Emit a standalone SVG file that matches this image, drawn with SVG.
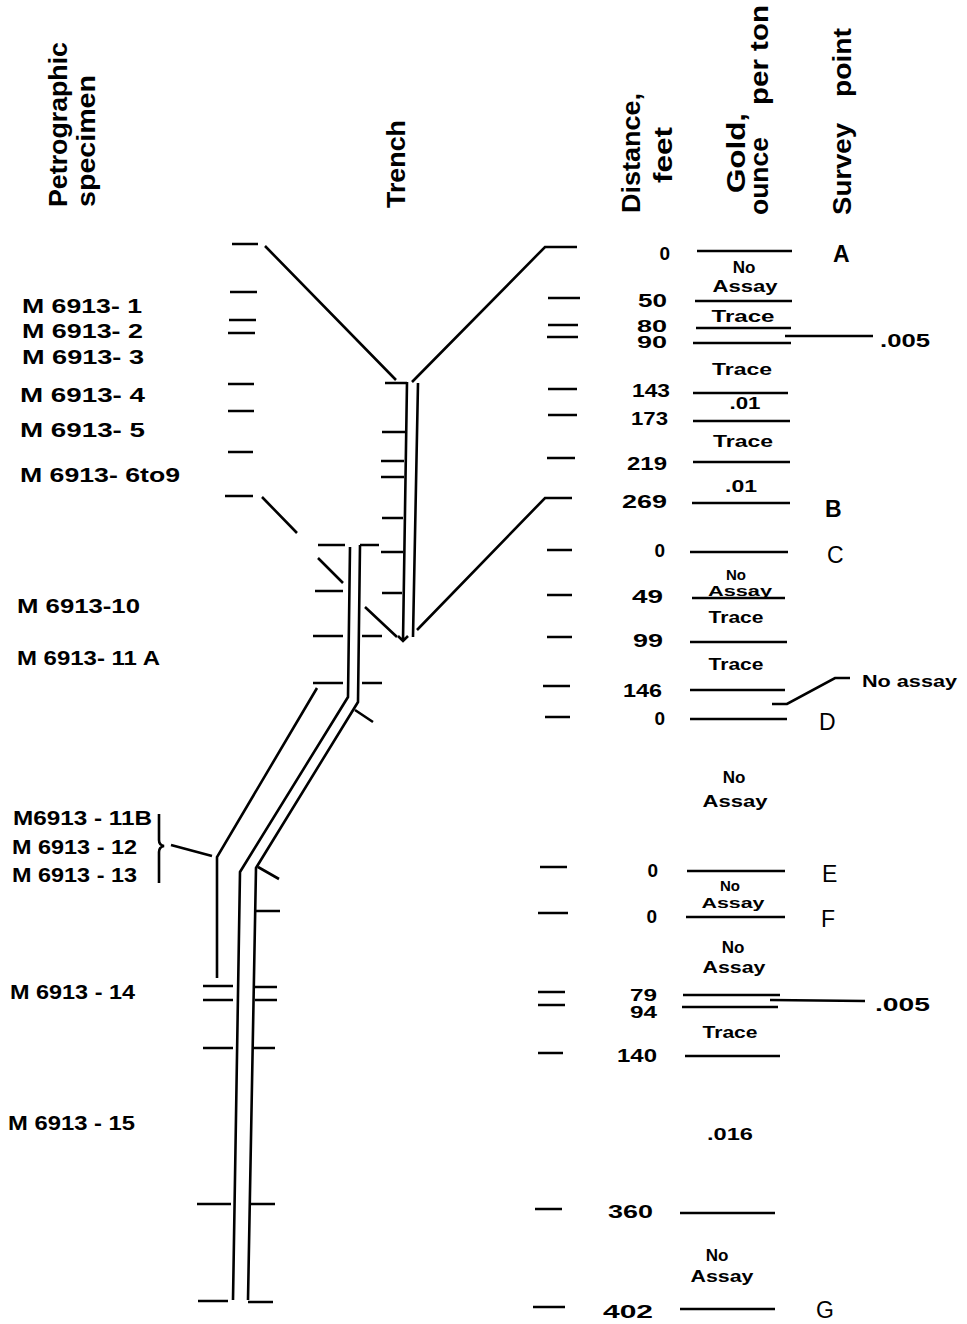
<svg xmlns="http://www.w3.org/2000/svg" width="967" height="1324" viewBox="0 0 967 1324">
<style>
.t{font-family:"Liberation Sans",Arial,sans-serif;font-weight:bold;fill:#000}
.h{font-size:26px}
.s{font-size:20px}
.n{font-size:19px}
.ns{font-size:16px}
.g{font-size:17px}
.gs{font-size:15px}
.p{font-size:23px}
.pr{font-size:23px;font-weight:normal}
.l{stroke:#000;stroke-width:2.6;fill:none;stroke-linecap:butt;stroke-linejoin:miter}
</style>
<rect width="967" height="1324" fill="#fff"/>
<g id="headers">
<text class="t h" transform="translate(67,207) rotate(-90)" textLength="165" lengthAdjust="spacingAndGlyphs">Petrographic</text>
<text class="t h" transform="translate(95,207) rotate(-90)" textLength="132" lengthAdjust="spacingAndGlyphs">specimen</text>
<text class="t h" transform="translate(405,208) rotate(-90)" textLength="88" lengthAdjust="spacingAndGlyphs">Trench</text>
<text class="t h" transform="translate(640,213) rotate(-90)" textLength="120" lengthAdjust="spacingAndGlyphs">Distance,</text>
<text class="t h" transform="translate(672,183) rotate(-90)" textLength="56" lengthAdjust="spacingAndGlyphs">feet</text>
<text class="t h" transform="translate(745,193) rotate(-90)" textLength="80" lengthAdjust="spacingAndGlyphs">Gold,</text>
<text class="t h" transform="translate(768,215) rotate(-90)"><tspan x="0" textLength="78" lengthAdjust="spacingAndGlyphs">ounce</tspan><tspan x="110" textLength="100" lengthAdjust="spacingAndGlyphs">per ton</tspan></text>
<text class="t h" transform="translate(851,215) rotate(-90)"><tspan x="0" textLength="92" lengthAdjust="spacingAndGlyphs">Survey</tspan><tspan x="118" textLength="69" lengthAdjust="spacingAndGlyphs">point</tspan></text>
</g>
<g id="specimens">
<text class="t s" x="22" y="313" textLength="120" lengthAdjust="spacingAndGlyphs">M 6913- 1</text>
<text class="t s" x="22" y="338" textLength="121" lengthAdjust="spacingAndGlyphs">M 6913- 2</text>
<text class="t s" x="22" y="364" textLength="122" lengthAdjust="spacingAndGlyphs">M 6913- 3</text>
<text class="t s" x="20" y="402" textLength="125" lengthAdjust="spacingAndGlyphs">M 6913- 4</text>
<text class="t s" x="20" y="437" textLength="125" lengthAdjust="spacingAndGlyphs">M 6913- 5</text>
<text class="t s" x="20" y="482" textLength="160" lengthAdjust="spacingAndGlyphs">M 6913- 6to9</text>
<text class="t s" x="17" y="613" textLength="123" lengthAdjust="spacingAndGlyphs">M 6913-10</text>
<text class="t s" x="17" y="665" textLength="143" lengthAdjust="spacingAndGlyphs">M 6913- 11 A</text>
<text class="t s" x="13" y="825" textLength="139" lengthAdjust="spacingAndGlyphs">M6913 - 11B</text>
<text class="t s" x="12" y="854" textLength="125" lengthAdjust="spacingAndGlyphs">M 6913 - 12</text>
<text class="t s" x="12" y="882" textLength="125" lengthAdjust="spacingAndGlyphs">M 6913 - 13</text>
<text class="t s" x="10" y="999" textLength="125" lengthAdjust="spacingAndGlyphs">M 6913 - 14</text>
<text class="t s" x="8" y="1130" textLength="127" lengthAdjust="spacingAndGlyphs">M 6913 - 15</text>
<path class="l" d="M232 244H258M230 292H257M229 320H256M228 333H255M228 384H254M228 411H254M228 452H253M225 496H253"/>
<path class="l" d="M159 814V840Q159 845 164 846Q159 847 159 852V883"/>
</g>
<g id="trench">
<path class="l" d="M407 382L403 641M398 636L403 641L408 636M418 383L413 637"/>
<path class="l" d="M385 383H407M382 432H405M381 461H404M381 477H404M382 518H403M381 552H403M382 593H402"/>
<path class="l" d="M350 547L348 697L240 872L233 1300M360 545L358 702L256 868L248 1300M360 545H379M248 1302H273"/>
<path class="l" d="M318 545H345M318 558L343 583M315 591H343M313 636H343M313 683H343M362 636H382M362 683H382M365 607L397 637M355 710L373 722"/>
<path class="l" d="M317 688L217 857V978"/>
<path class="l" d="M258 867L279 879M255 911H280M203 986H233M203 1000H233M255 987H277M255 1000H277M203 1048H233M253 1048H275M197 1204H231M250 1204H275M198 1301H228"/>
</g>
<g id="connectors">
<path class="l" d="M265 246L396 380M412 382L545 247H577M417 630L545 498H572M262 497L297 533"/>
<path class="l" d="M171 845L212 856"/>
<path class="l" d="M785 336H873M772 704H787L835 678H850M770 1000L865 1001"/>
</g>
<g id="distance">
<path class="l" d="M548 298H580M548 325H578M547 337H578M548 389H577M548 415H577M547 458H575M547 550H572M547 595H572M547 637H572M543 686H570M545 717H570M540 867H567M538 913H568M538 992H565M538 1005H565M538 1053H563M535 1209H562M533 1307H565"/>
<text class="t n" x="670" y="260" text-anchor="end">0</text>
<text class="t n" x="667" y="307" text-anchor="end" textLength="29" lengthAdjust="spacingAndGlyphs">50</text>
<text class="t ns" x="667" y="332" text-anchor="end" textLength="30" lengthAdjust="spacingAndGlyphs">80</text>
<text class="t ns" x="667" y="348" text-anchor="end" textLength="30" lengthAdjust="spacingAndGlyphs">90</text>
<text class="t n" x="670" y="397" text-anchor="end" textLength="38" lengthAdjust="spacingAndGlyphs">143</text>
<text class="t n" x="668" y="425" text-anchor="end" textLength="37" lengthAdjust="spacingAndGlyphs">173</text>
<text class="t n" x="667" y="470" text-anchor="end" textLength="40" lengthAdjust="spacingAndGlyphs">219</text>
<text class="t n" x="667" y="508" text-anchor="end" textLength="45" lengthAdjust="spacingAndGlyphs">269</text>
<text class="t n" x="665" y="557" text-anchor="end">0</text>
<text class="t n" x="663" y="603" text-anchor="end" textLength="31" lengthAdjust="spacingAndGlyphs">49</text>
<text class="t n" x="663" y="647" text-anchor="end" textLength="30" lengthAdjust="spacingAndGlyphs">99</text>
<text class="t n" x="662" y="697" text-anchor="end" textLength="39" lengthAdjust="spacingAndGlyphs">146</text>
<text class="t n" x="665" y="725" text-anchor="end">0</text>
<text class="t n" x="658" y="877" text-anchor="end">0</text>
<text class="t n" x="657" y="923" text-anchor="end">0</text>
<text class="t ns" x="657" y="1001" text-anchor="end" textLength="27" lengthAdjust="spacingAndGlyphs">79</text>
<text class="t ns" x="657" y="1018" text-anchor="end" textLength="27" lengthAdjust="spacingAndGlyphs">94</text>
<text class="t n" x="657" y="1062" text-anchor="end" textLength="40" lengthAdjust="spacingAndGlyphs">140</text>
<text class="t n" x="653" y="1218" text-anchor="end" textLength="45" lengthAdjust="spacingAndGlyphs">360</text>
<text class="t n" x="653" y="1318" text-anchor="end" textLength="50" lengthAdjust="spacingAndGlyphs">402</text>
</g>
<g id="gold">
<path class="l" d="M697 251H792M695 301H792M696 328H791M693 343H791M693 393H788M693 421H790M693 462H790M692 503H790M690 552H788M692 598H785M690 642H787M690 690H785M690 719H787M687 871H785M686 917H785M683 995H780M682 1007H778M685 1056H780M680 1213H775M680 1309H775"/>
<g text-anchor="middle">
<text class="t g" x="744" y="273">No</text>
<text class="t g" x="745" y="292" textLength="65" lengthAdjust="spacingAndGlyphs">Assay</text>
<text class="t g" x="743" y="322" textLength="63" lengthAdjust="spacingAndGlyphs">Trace</text>
<text class="t g" x="742" y="375" textLength="60" lengthAdjust="spacingAndGlyphs">Trace</text>
<text class="t g" x="745" y="409" textLength="31" lengthAdjust="spacingAndGlyphs">.01</text>
<text class="t g" x="743" y="447" textLength="60" lengthAdjust="spacingAndGlyphs">Trace</text>
<text class="t g" x="741" y="492" textLength="32" lengthAdjust="spacingAndGlyphs">.01</text>
<text class="t gs" x="736" y="580">No</text>
<text class="t gs" x="740" y="596" textLength="64" lengthAdjust="spacingAndGlyphs">Assay</text>
<text class="t g" x="736" y="623" textLength="55" lengthAdjust="spacingAndGlyphs">Trace</text>
<text class="t g" x="736" y="670" textLength="55" lengthAdjust="spacingAndGlyphs">Trace</text>
<text class="t g" x="734" y="783">No</text>
<text class="t g" x="735" y="807" textLength="65" lengthAdjust="spacingAndGlyphs">Assay</text>
<text class="t gs" x="730" y="891">No</text>
<text class="t gs" x="733" y="908" textLength="63" lengthAdjust="spacingAndGlyphs">Assay</text>
<text class="t g" x="733" y="953">No</text>
<text class="t g" x="734" y="973" textLength="63" lengthAdjust="spacingAndGlyphs">Assay</text>
<text class="t g" x="730" y="1038" textLength="55" lengthAdjust="spacingAndGlyphs">Trace</text>
<text class="t g" x="730" y="1140" textLength="46" lengthAdjust="spacingAndGlyphs">.016</text>
<text class="t g" x="717" y="1261">No</text>
<text class="t g" x="722" y="1282" textLength="63" lengthAdjust="spacingAndGlyphs">Assay</text>
</g>
<text class="t n" x="880" y="347" textLength="50" lengthAdjust="spacingAndGlyphs">.005</text>
<text class="t g" x="862" y="687" textLength="95" lengthAdjust="spacingAndGlyphs">No assay</text>
<text class="t n" x="875" y="1011" textLength="55" lengthAdjust="spacingAndGlyphs">.005</text>
</g>
<g id="survey">
<text class="t p" x="833" y="262">A</text>
<text class="t p" x="825" y="517">B</text>
<text class="t pr" x="827" y="563">C</text>
<text class="t pr" x="819" y="730">D</text>
<text class="t pr" x="822" y="882">E</text>
<text class="t pr" x="821" y="927">F</text>
<text class="t pr" x="816" y="1318">G</text>
</g>
</svg>
